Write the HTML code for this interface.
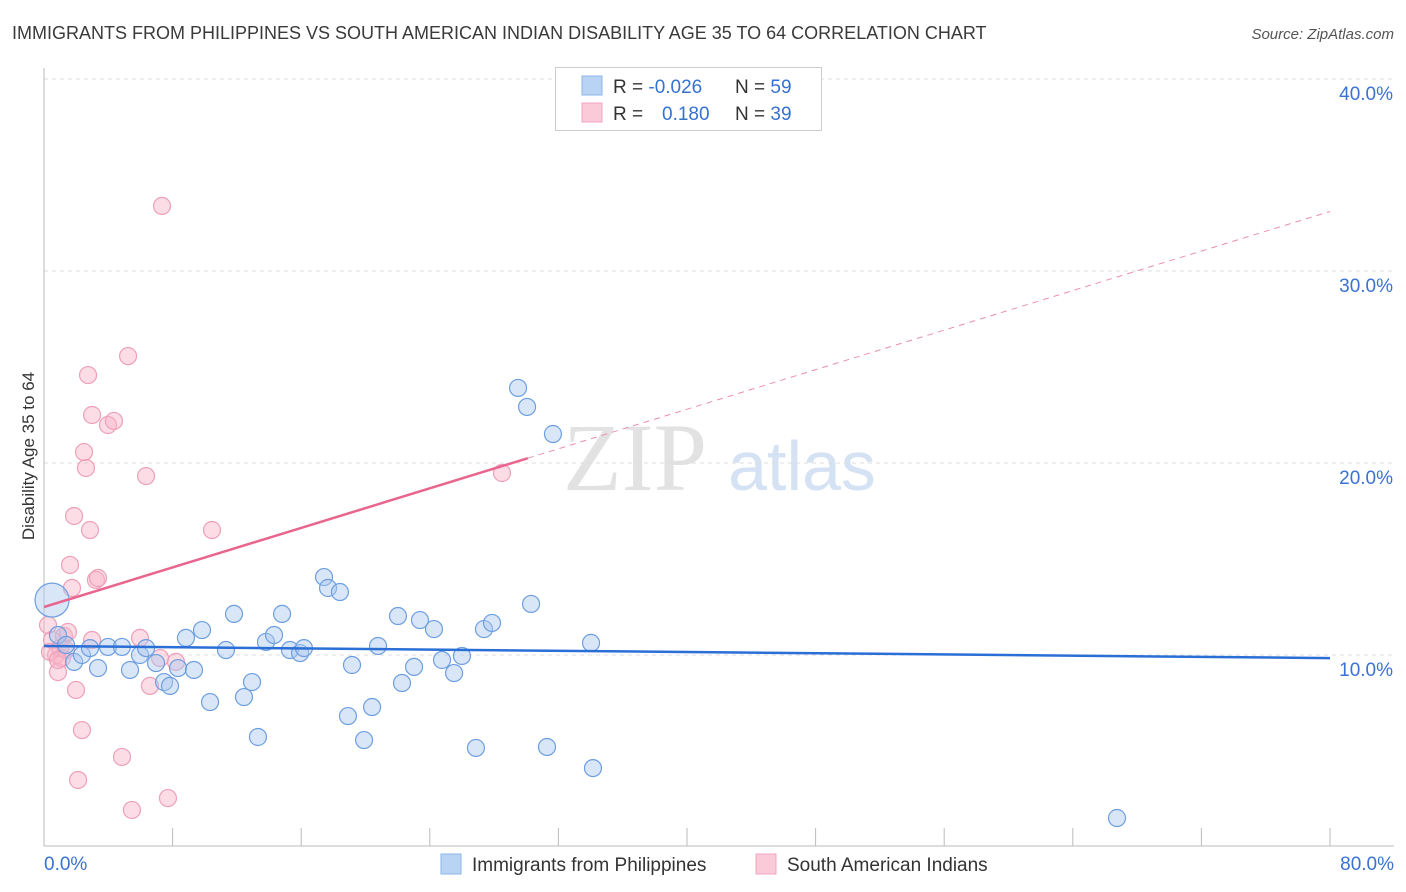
<!DOCTYPE html>
<html><head><meta charset="utf-8"><style>
body{margin:0;background:#fff;font-family:"Liberation Sans",sans-serif;}
svg{display:block}
</style></head><body>
<svg id="chart" width="1406" height="892" font-family="Liberation Sans, sans-serif">
<text x="12" y="39" font-size="18" fill="#3a3a3a">IMMIGRANTS FROM PHILIPPINES VS SOUTH AMERICAN INDIAN DISABILITY AGE 35 TO 64 CORRELATION CHART</text>
<text x="1394" y="39" font-size="15" fill="#555" font-style="italic" text-anchor="end">Source: ZipAtlas.com</text>
<text x="34" y="456" font-size="17" fill="#333" text-anchor="middle" transform="rotate(-90 34 456)">Disability Age 35 to 64</text>
<g><text x="635" y="490" font-size="96" fill="#e2e2e2" font-family="Liberation Serif, serif" text-anchor="middle">ZIP</text><text x="802" y="490" font-size="70" fill="#d4e2f3" text-anchor="middle">atlas</text></g>
<g id="grid"></g><g id="axes"></g><g id="pts"></g><g id="lines"></g>
<g>
<rect x="555.5" y="67.5" width="266" height="63" fill="#fff" stroke="#ccc"/>
<rect x="582" y="76" width="20" height="19" fill="#b9d3f5" stroke="#8fb6e8"/>
<rect x="582" y="103" width="20" height="19" fill="#fbcad8" stroke="#f0a4bc"/>
<text x="613" y="93" font-size="19" fill="#333">R = <tspan fill="#3572d0">-0.026</tspan><tspan x="735">N = </tspan><tspan fill="#3572d0">59</tspan></text>
<text x="613" y="120" font-size="19" fill="#333">R = <tspan x="662" fill="#3572d0">0.180</tspan><tspan x="735">N = </tspan><tspan fill="#3572d0">39</tspan></text>
</g>
<g>
<rect x="441" y="854" width="20" height="20" fill="#b9d3f5" stroke="#8fb6e8"/>
<text x="472" y="871" font-size="19" fill="#333">Immigrants from Philippines</text>
<rect x="756" y="854" width="20" height="20" fill="#fbcad8" stroke="#f0a4bc"/>
<text x="787" y="871" font-size="19" fill="#333">South American Indians</text>
</g>
</svg>
<script>
const blueX=[0.5,0.87,1.37,1.87,2.36,2.86,3.36,3.98,4.85,5.35,5.97,6.35,6.97,7.47,7.84,8.34,8.83,9.33,9.83,10.33,11.32,11.82,12.44,12.94,13.31,13.81,14.31,14.81,15.3,15.93,16.17,17.42,17.67,18.41,18.91,19.16,19.91,20.41,20.78,22.02,22.27,23.02,23.39,24.26,24.76,25.51,26.0,26.87,27.37,27.87,29.49,30.05,30.3,31.29,31.66,34.03,34.15,66.75];
const blueY=[12.86,11.04,10.52,9.64,10.0,10.36,9.32,10.42,10.42,9.22,10.0,10.36,9.58,8.59,8.39,9.32,10.89,9.22,11.3,7.55,10.26,12.14,7.81,8.59,5.73,10.68,11.04,12.14,10.26,10.1,10.36,14.06,13.49,13.28,6.82,9.48,5.57,7.29,10.47,12.03,8.54,9.38,11.82,11.35,9.74,9.06,9.95,5.16,11.35,11.67,23.91,22.92,12.66,5.21,21.51,10.63,4.11,1.51];
const pinkX=[0.25,0.5,0.75,1.0,1.24,1.49,0.87,1.62,1.74,1.87,1.99,2.12,2.36,2.74,2.86,2.99,2.61,2.49,3.23,3.36,3.98,4.35,5.23,6.35,5.97,6.59,7.22,7.34,7.71,8.21,10.45,28.49,4.85,5.47,2.99,1.12,1.37,0.37,0.87];
const pinkY=[11.56,10.78,10.0,10.36,10.99,11.2,9.11,14.69,13.49,17.24,8.18,3.49,6.09,24.58,16.51,22.5,19.74,20.57,13.91,14.01,21.98,22.19,25.57,19.32,10.89,8.39,9.84,33.39,2.55,9.64,16.51,19.48,4.69,1.93,10.78,9.84,10.26,10.16,9.74];
const yTicks=[10,20,30,40];
const yTickLabels=["10.0%","20.0%","30.0%","40.0%"];
const xTicks=[0,8,16,24,32,40,48,56,64,72,80];
const blueTrend=[10.47,9.84];
const pinkTrend=[12.5,33.1];
const pinkSolidEnd=30.1;
const NS="http://www.w3.org/2000/svg";
const X=v=>44+v*1286/80, Y=v=>847-v*19.2;
function mk(p,tag,a){const e=document.createElementNS(NS,tag);for(const k in a)e.setAttribute(k,a[k]);document.getElementById(p).appendChild(e);return e;}
yTicks.forEach((t,i)=>{
 const g=mk('grid','line',{x1:44,x2:1394,y1:Y(t),y2:Y(t),stroke:'#ddd','stroke-dasharray':'4,4'});
 
 
 const l=mk('grid','text',{x:1393,y:Y(t)+21,'font-size':19,fill:'#3a72d0','text-anchor':'end'});
 l.textContent=yTickLabels[i];
 
 
});
const ax=mk('axes','line',{x1:44,x2:44,y1:68,y2:846,stroke:'#bbb'});


const bx=mk('axes','line',{x1:44,x2:1394,y1:846,y2:846,stroke:'#bbb'});


xTicks.forEach(t=>{const k=mk('axes','line',{x1:X(t),x2:X(t),y1:828,y2:846,stroke:'#bbb'});
 
 });
const x0=mk('axes','text',{x:44,y:870,'font-size':19,fill:'#3a72d0'});x0.textContent=xTicks[0].toFixed(1)+'%';


const x1=mk('axes','text',{x:1394,y:870,'font-size':19,fill:'#3a72d0','text-anchor':'end'});x1.textContent=xTicks[xTicks.length-1].toFixed(1)+'%';


pinkX.forEach((v,i)=>{const c=mk('pts','circle',{cx:X(v),cy:Y(pinkY[i]),r:8.5,fill:'rgba(248,180,200,0.45)',stroke:'#eea0b8','stroke-width':1.2});
 
 });
blueX.forEach((v,i)=>{const c=mk('pts','circle',{cx:X(v),cy:Y(blueY[i]),r:i===0?17:8.5,fill:'rgba(170,200,240,0.45)',stroke:'#6d9fe0','stroke-width':1.2});
 
 });
const ps=v=>pinkTrend[0]+(pinkTrend[1]-pinkTrend[0])*v/80;
const pd=mk('lines','line',{x1:X(pinkSolidEnd),y1:Y(ps(pinkSolidEnd)),x2:X(80),y2:Y(pinkTrend[1]),stroke:'#eb8fac','stroke-width':1,'stroke-dasharray':'6,5'});


const pl=mk('lines','line',{x1:X(0),y1:Y(pinkTrend[0]),x2:X(pinkSolidEnd),y2:Y(ps(pinkSolidEnd)),stroke:'#e8668e','stroke-width':2.5});


const bl=mk('lines','line',{x1:X(0),y1:Y(blueTrend[0]),x2:X(80),y2:Y(blueTrend[1]),stroke:'#2a6fd6','stroke-width':2.5});


</script>
</body></html>
